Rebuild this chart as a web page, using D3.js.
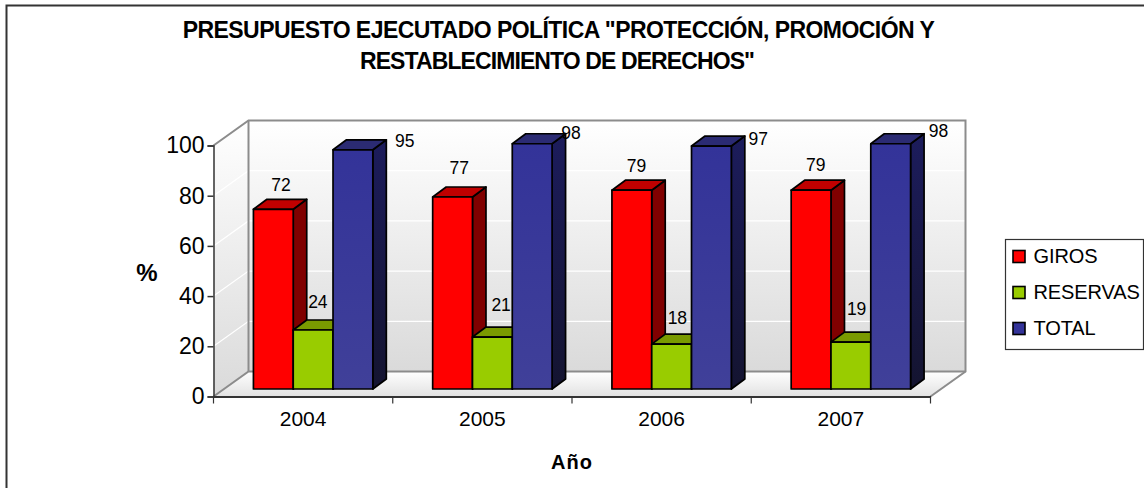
<!DOCTYPE html>
<html><head><meta charset="utf-8">
<script src="https://cdn.jsdelivr.net/npm/d3@7/dist/d3.min.js"></script>
<style>html,body{margin:0;padding:0;background:#fff}svg{display:block}text{font-family:"Liberation Sans",Arial,sans-serif;fill:#000}</style>
</head><body><svg id="c" width="1144" height="488"></svg>
<script>
const years=["2004","2005","2006","2007"];
const seriesNames=["GIROS","RESERVAS","TOTAL"];
const giros=[71.6,76.5,79.2,79.2];
const reservas=[23.5,20.7,17.9,18.7];
const total=[95.3,97.7,96.8,97.7];
const yTicks=[0,20,40,60,80,100];
const titleLines=['PRESUPUESTO EJECUTADO POLÍTICA "PROTECCIÓN, PROMOCIÓN Y','RESTABLECIMIENTO DE DERECHOS"'];

const seriesValues=[giros,reservas,total];
const faces=[
 {front:"#ff0000",top:"#c00000",side:"#800000"},
 {front:"#99cc00",top:"#7a9a00",side:"#4d6600"},
 {front:"url(#blueF)",top:"#2b2b73",side:"url(#blueS)"}];
const labelNudgeX=[[1,0,-2,-2],[-2,2,-1,-1],[45,32,40,41]];
const labelNudgeY=[[-8,-13,-8,-9],[-12,-16,-10,-17],[7,5,9,3]];
const titleStyle=[{cx:558.5,ls:-0.55},{cx:557,ls:-0.9}];

const svg=d3.select("#c");
const defs=svg.append("defs");
function grad(id,stops){const g=defs.append("linearGradient").attr("id",id).attr("x1",0).attr("y1",0).attr("x2",0).attr("y2",1);
 stops.forEach(s=>g.append("stop").attr("offset",s[0]).attr("stop-color",s[1]));}
grad("wall",[[0,"#ffffff"],[1,"#dadada"]]);
grad("floor",[[0,"#ffffff"],[1,"#e2e2e2"]]);
grad("blueF",[[0,"#333399"],[1,"#404099"]]);
grad("blueS",[[0,"#1c1c5c"],[1,"#141430"]]);

const x0=213.5,x1=930.5,yB=396.5,yT=145.5,depX=35,depY=25,barDX=10,barDY=7.5,bdX=13.5,bdY=10;
const x=d3.scaleBand().domain(years).range([x0,x1]);
const y=d3.scaleLinear().domain([0,100]).range([yB,yT]);
const groupW=119.4;
const xs=d3.scaleBand().domain(seriesNames).range([0,groupW]);
const line=d3.line();

// chart frame (left and top edges only)
svg.append("path").attr("d",line([[6.5,488],[6.5,5.5],[1144,5.5]])).attr("fill","none").attr("stroke","#333").attr("stroke-width",2);

// walls
svg.append("path").attr("d",line([[x0,yB],[x0,yT],[x0+depX,yT-depY],[x0+depX,yB-depY]])+"Z").attr("fill","url(#wall)");
svg.append("rect").attr("x",x0+depX).attr("y",yT-depY).attr("width",x1-x0).attr("height",yB-yT).attr("fill","url(#wall)");
svg.append("path").attr("d",line([[x0,yB],[x0+depX,yB-depY],[x1+depX,yB-depY],[x1,yB]])+"Z").attr("fill","url(#floor)");
yTicks.filter(t=>t>0&&t<100).forEach(t=>{
 svg.append("path").attr("d",line([[x0,y(t)],[x0+depX,y(t)-depY],[x1+depX,y(t)-depY]])).attr("fill","none").attr("stroke","#fff").attr("stroke-width",1.2);
});
svg.append("path").attr("d",line([[x0,yT],[x0+depX,yT-depY],[x1+depX,yT-depY],[x1+depX,yB-depY],[x1,yB]])).attr("fill","none").attr("stroke","#8c8c8c").attr("stroke-width",2);
svg.append("path").attr("d",line([[x0,yB],[x0+depX,yB-depY],[x1+depX,yB-depY]])).attr("fill","none").attr("stroke","#8c8c8c").attr("stroke-width",2);
svg.append("path").attr("d",line([[x0+depX,yT-depY],[x0+depX,yB-depY]])).attr("fill","none").attr("stroke","#8c8c8c").attr("stroke-width",2);

// bars
years.forEach((yr,i)=>{
 seriesNames.forEach((s,j)=>{
  const v=seriesValues[j][i],f=faces[j];
  const l=x(yr)+(x.bandwidth()-groupW)/2+barDX+xs(s),r=l+xs.bandwidth(),b=y(0)-barDY,t=y(v)-barDY;
  const g=svg.append("g").attr("stroke","#000").attr("stroke-width",1.7).attr("stroke-linejoin","round");
  g.append("path").attr("d",line([[r,b],[r,t],[r+bdX,t-bdY],[r+bdX,b-bdY]])+"Z").attr("fill",f.side);
  g.append("path").attr("d",line([[l,t],[l+bdX,t-bdY],[r+bdX,t-bdY],[r,t]])+"Z").attr("fill",f.top);
  g.append("rect").attr("x",l).attr("y",t).attr("width",r-l).attr("height",b-t).attr("fill",f.front);
 });
});
// value labels
years.forEach((yr,i)=>{
 seriesNames.forEach((s,j)=>{
  const v=seriesValues[j][i];
  const cx=x(yr)+(x.bandwidth()-groupW)/2+barDX+xs(s)+xs.bandwidth()/2+bdX/2;
  svg.append("text").attr("x",cx+labelNudgeX[j][i]).attr("y",y(v)-barDY-bdY+labelNudgeY[j][i]).attr("text-anchor","middle").attr("font-size",17.5).text(Math.round(v));
 });
});

// axes
const ax=d3.axisLeft(y).tickValues(yTicks).tickSize(6).tickPadding(3);
const gy=svg.append("g").attr("transform",`translate(${x0},0)`).call(ax);
gy.selectAll("path,line").attr("stroke","#333").attr("stroke-width",1.5);
gy.selectAll("text").attr("font-size",23).attr("font-family",'"Liberation Sans",Arial,sans-serif').attr("fill","#000");
const gx=svg.append("g").attr("transform",`translate(0,${yB})`).call(d3.axisBottom(x).tickSize(0).tickPadding(15));
gx.select("path").attr("stroke","#333").attr("stroke-width",2);
gx.selectAll("text").attr("font-size",21).attr("font-family",'"Liberation Sans",Arial,sans-serif').attr("fill","#000");
years.concat(["end"]).forEach((yr,i)=>{
 const px=x0+i*x.step();
 svg.append("line").attr("x1",px).attr("x2",px).attr("y1",yB).attr("y2",yB+7).attr("stroke","#333").attr("stroke-width",1.2);
});

// titles
titleLines.forEach((t,i)=>svg.append("text").attr("x",titleStyle[i].cx).attr("y",38+i*31).attr("text-anchor","middle").attr("font-size",23).attr("font-weight","bold").attr("letter-spacing",titleStyle[i].ls).text(t));
svg.append("text").attr("x",147).attr("y",281).attr("text-anchor","middle").attr("font-size",24).attr("font-weight","bold").text("%");
svg.append("text").attr("x",572).attr("y",469).attr("text-anchor","middle").attr("font-size",20).attr("font-weight","bold").attr("letter-spacing",1).text("Año");

// legend
svg.append("rect").attr("x",1005.5).attr("y",239.5).attr("width",138).attr("height",110).attr("fill","#fff").attr("stroke","#333").attr("stroke-width",1.2);
const legFill=["#ff0000","#99cc00","#333399"];
seriesNames.forEach((s,j)=>{
 const cy=256.5+j*36;
 svg.append("rect").attr("x",1013).attr("y",cy-6).attr("width",12).attr("height",12).attr("fill",legFill[j]).attr("stroke","#000").attr("stroke-width",1.6);
 svg.append("text").attr("x",1033.5).attr("y",cy+6.5).attr("font-size",20).attr("letter-spacing",-0.1).text(s);
});
</script></body></html>
